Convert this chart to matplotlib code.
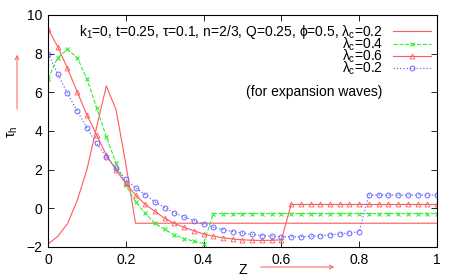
import numpy as np
import matplotlib
matplotlib.use('Agg')
import matplotlib.pyplot as plt

plt.rcParams['font.family'] = ['Liberation Sans', 'DejaVu Sans']
plt.rcParams['font.size'] = 10
plt.rcParams['mathtext.fontset'] = 'custom'
plt.rcParams['mathtext.rm'] = 'Liberation Sans'
plt.rcParams['mathtext.it'] = 'Liberation Sans'

# Z grid (step 0.025)
z = np.linspace(0, 1, 41)

# lambda_c = 0.2, solid line, no markers
z_a = [0, 0.025, 0.05, 0.075, 0.1, 0.125, 0.15, 0.175, 0.2, 0.225, 1.0]
tau_a = [-1.85, -1.45, -0.8, 0.4, 2.0, 4.2, 6.33, 5.1, 2.3, -0.77, -0.77]

# lambda_c = 0.4, green dashed, x markers
tau_b = [6.7, 7.8, 8.22, 7.8, 6.7, 5.2, 3.7, 2.33, 1.2, 0.35, -0.26,
         -0.78, -1.08, -1.38, -1.57, -1.7, -1.82] + [-0.27] * 24

# lambda_c = 0.6, red solid, triangles
tau_c = [9.28, 8.36, 7.24, 6.03, 4.83, 3.79, 2.76, 1.98, 1.29, 0.69, 0.2,
         -0.16, -0.52, -0.78, -0.99, -1.16, -1.33, -1.44, -1.52, -1.59,
         -1.63, -1.65, -1.66, -1.65, -1.63] + [0.2] * 16

# lambda_c = 0.2, blue dotted, circles
tau_d = [8.0, 6.95, 5.95, 5.03, 4.17, 3.36, 2.67, 2.07, 1.5, 1.07, 0.7,
         0.34, 0.03, -0.23, -0.45, -0.64, -0.81, -0.98, -1.1, -1.2, -1.28,
         -1.35, -1.41, -1.44, -1.46, -1.47, -1.47, -1.45, -1.42, -1.37,
         -1.33, -1.27, -1.21] + [0.69] * 8

red = '#ff5a5a'
green = '#33ee33'
blue = '#6a6aff'

fig = plt.figure(figsize=(4.64, 2.77), dpi=100)
ax = fig.add_axes([48 / 464, 30 / 277, 389 / 464, 232 / 277])

ax.plot(z_a, tau_a, '-', color=red, lw=0.8,
        label=r'k$_1$=0, t=0.25, $\tau$=0.1, n=2/3, Q=0.25, $\phi$=0.5, $\lambda_{\rm c}$=0.2')
ax.plot(z, tau_b, '--', color=green, lw=0.8, marker='x', ms=3.5, mew=0.8,
        label=r'$\lambda_{\rm c}$=0.4')
ax.plot(z, tau_c, '-', color=red, lw=0.8, marker='^', ms=3.5, mew=0.6,
        mfc='none', label=r'$\lambda_{\rm c}$=0.6')
ax.plot(z, tau_d, ':', color=blue, lw=0.9, marker='o', ms=3.5, mew=0.7,
        mfc='none', label=r'$\lambda_{\rm c}$=0.2')

ax.set_xlim(0, 1)
ax.set_ylim(-2, 10)
ax.set_xticks([0, 0.2, 0.4, 0.6, 0.8, 1])
ax.set_xticklabels(['0', '0.2', '0.4', '0.6', '0.8', '1'])
ax.set_yticks([-2, 0, 2, 4, 6, 8, 10])
ax.tick_params(direction='in', top=True, right=True, length=4, width=0.6,
               labelsize=10, pad=4)
for s in ax.spines.values():
    s.set_linewidth(0.8)

leg = ax.legend(loc='upper right', bbox_to_anchor=(1.0, 0.99), frameon=False,
                markerfirst=False, handlelength=2.8, handletextpad=0.7,
                labelspacing=-0.38, borderaxespad=0, fontsize=10)
for t in leg.get_texts():
    t.set_ha('right')
leg._legend_box.align = 'right'

ax.text(0.684, 0.668, '(for expansion waves)', transform=ax.transAxes,
        ha='center', va='center', fontsize=10)

# axis labels with arrows, gnuplot style
fig.text(243 / 464, 1 - 270 / 277, 'Z', ha='center', va='center', fontsize=10)
fig.add_artist(matplotlib.patches.FancyArrowPatch(
    (258 / 464, 1 - 267 / 277), (337 / 464, 1 - 267 / 277),
    transform=fig.transFigure, arrowstyle='->', mutation_scale=7,
    color=red, lw=0.7))
fig.text(13 / 464, 1 - 132 / 277, r'$\tau_{\rm h}$', ha='center', va='center',
         rotation=90, fontsize=10)
fig.add_artist(matplotlib.patches.FancyArrowPatch(
    (17 / 464, 1 - 112 / 277), (17 / 464, 1 - 52 / 277),
    transform=fig.transFigure, arrowstyle='->', mutation_scale=7,
    color=red, lw=0.7))

fig.savefig('out.png', dpi=100)
